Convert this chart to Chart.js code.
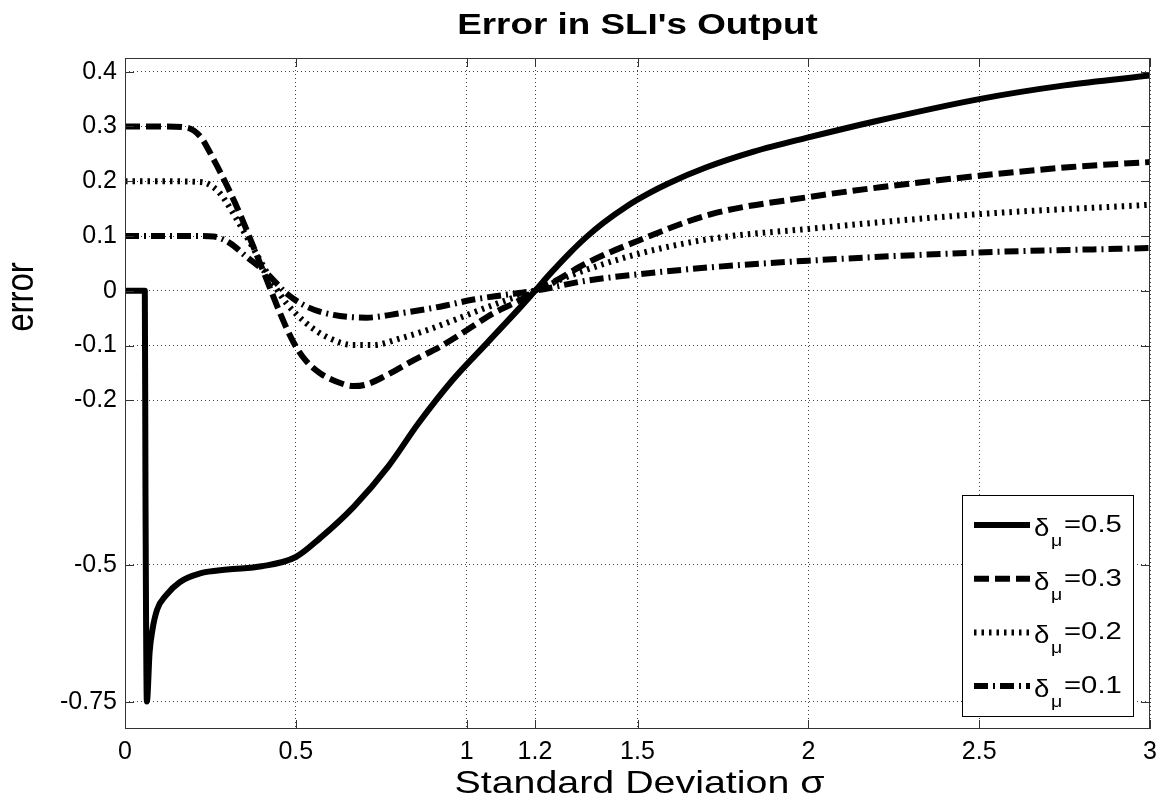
<!DOCTYPE html>
<html>
<head>
<meta charset="utf-8">
<title>Error in SLI's Output</title>
<script src="https://cdn.jsdelivr.net/npm/chart.js@4.4.0/dist/chart.umd.min.js"></script>
<style>
  html, body { margin: 0; padding: 0; background: #fff; }
  #wrap { width: 1161px; height: 802px; }
</style>
</head>
<body>
<div id="wrap"><canvas id="errChart" width="1161" height="802"></canvas></div>
<script>
// texts
var chartTitle = "Error in SLI's Output";
var xTitle = 'Standard Deviation \u03c3';
var yTitle = 'error';
var legendValues = ['0.5', '0.3', '0.2', '0.1'];

// tick positions
var xTicks = [0, 0.5, 1, 1.2, 1.5, 2, 2.5, 3];
var yTicks = [-0.75, -0.5, -0.2, -0.1, 0, 0.1, 0.2, 0.3, 0.4];

// delta_mu = 0.5 (solid)
var sigma05 = [0, 0.058, 0.06, 0.064, 0.072, 0.08, 0.094, 0.12, 0.16, 0.22, 0.3, 0.4, 0.5, 0.57, 0.67, 0.77, 0.86, 0.96, 1.06, 1.16, 1.2, 1.25, 1.3, 1.35, 1.4, 1.47, 1.53, 1.59, 1.7, 1.84, 2.0, 2.2, 2.5, 2.75, 3.0];
var err05   = [0, 0, -0.376, -0.75, -0.66, -0.62, -0.582, -0.556, -0.532, -0.516, -0.509, -0.503, -0.486, -0.452, -0.394, -0.321, -0.241, -0.162, -0.095, -0.028, 0, 0.035, 0.068, 0.098, 0.124, 0.155, 0.177, 0.196, 0.225, 0.254, 0.28, 0.31, 0.35, 0.375, 0.393];

// delta_mu = 0.3 (dashed)
var sigma03 = [0, 0.1, 0.18, 0.22, 0.26, 0.3, 0.34, 0.376, 0.415, 0.454, 0.493, 0.53, 0.57, 0.62, 0.67, 0.707, 0.766, 0.844, 0.922, 1.0, 1.078, 1.156, 1.2, 1.26, 1.346, 1.5, 1.716, 2.0, 2.21, 2.5, 2.77, 3.0];
var err03   = [0.3, 0.3, 0.298, 0.282, 0.239, 0.19, 0.135, 0.08, 0.02, -0.041, -0.094, -0.128, -0.15, -0.166, -0.174, -0.171, -0.154, -0.127, -0.102, -0.072, -0.041, -0.017, 0, 0.018, 0.049, 0.091, 0.14, 0.171, 0.189, 0.21, 0.226, 0.235];

// delta_mu = 0.2 (dotted)
var sigma02 = [0, 0.1, 0.21, 0.24, 0.278, 0.317, 0.356, 0.395, 0.434, 0.473, 0.532, 0.59, 0.668, 0.727, 0.805, 0.883, 0.961, 1.039, 1.117, 1.2, 1.3, 1.5, 1.716, 2.0, 2.5, 3.0];
var err02   = [0.2, 0.2, 0.199, 0.196, 0.178, 0.141, 0.099, 0.056, 0.013, -0.023, -0.06, -0.084, -0.099, -0.099, -0.087, -0.072, -0.054, -0.035, -0.017, 0, 0.027, 0.067, 0.095, 0.113, 0.14, 0.157];

// delta_mu = 0.1 (dash-dot)
var sigma01 = [0, 0.1, 0.21, 0.26, 0.307, 0.356, 0.415, 0.473, 0.532, 0.61, 0.707, 0.805, 0.922, 1.02, 1.107, 1.2, 1.346, 1.5, 1.716, 2.0, 2.5, 3.0];
var err01   = [0.1, 0.1, 0.1, 0.099, 0.087, 0.062, 0.032, -0.005, -0.029, -0.044, -0.049, -0.041, -0.029, -0.016, -0.008, 0, 0.018, 0.03, 0.043, 0.055, 0.07, 0.078];

var FONT = "'Liberation Sans', Arial, Helvetica, sans-serif";

function toPoints(xs, ys) {
    return xs.map(function (x, i) { return { x: x, y: ys[i] }; });
}

var lineStyles = [
    { dash: [] },
    { dash: [15, 6] },
    { dash: [2.5, 5] },
    { dash: [14, 5, 2, 5] }
];

function makeSet(xs, ys, idx) {
    return {
        label: '\u03b4\u03bc=' + legendValues[idx],
        data: toPoints(xs, ys),
        borderColor: '#000',
        borderWidth: 6,
        borderDash: lineStyles[idx].dash,
        borderJoinStyle: 'round',
        pointRadius: 0,
        showLine: true,
        fill: false,
        cubicInterpolationMode: 'monotone'
    };
}

// text with a horizontal stretch, like the original figure
function drawText(ctx, txt, x, y, font, sx, align) {
    ctx.save();
    ctx.translate(x, y);
    ctx.scale(sx, 1);
    ctx.font = font;
    ctx.fillStyle = '#000';
    ctx.textAlign = align || 'left';
    ctx.textBaseline = 'alphabetic';
    ctx.fillText(txt, 0, 0);
    ctx.restore();
}

var matlabLook = {
    id: 'matlabLook',
    afterDatasetsDraw: function (chart) {
        // legend box
        var ctx = chart.ctx;
        var a = chart.chartArea;
        var bw = 171, bh = 221;
        var bx = a.right - 17 - bw, by = a.bottom - 13 - bh;
        ctx.save();
        ctx.fillStyle = '#fff';
        ctx.fillRect(bx, by, bw, bh);
        ctx.strokeStyle = '#000';
        ctx.lineWidth = 1;
        ctx.strokeRect(bx + 0.5, by + 0.5, bw, bh);
        for (var i = 0; i < legendValues.length; i++) {
            var ry = by + 30 + i * 53.7;
            ctx.beginPath();
            ctx.setLineDash(lineStyles[i].dash);
            ctx.lineWidth = 6;
            ctx.lineCap = 'butt';
            ctx.moveTo(bx + 12, ry);
            ctx.lineTo(bx + 68, ry);
            ctx.stroke();
            ctx.setLineDash([]);
            drawText(ctx, '\u03b4', bx + 72, ry + 11, '24px ' + FONT, 1.15);
            drawText(ctx, '\u03bc', bx + 89, ry + 21, '17px ' + FONT, 1.15);
            drawText(ctx, '=' + legendValues[i], bx + 102, ry + 7, '24px ' + FONT, 1.22);
        }
        ctx.restore();
    },
    afterDraw: function (chart) {
        var ctx = chart.ctx;
        var a = chart.chartArea;
        var xs = chart.scales.x, ys = chart.scales.y;
        ctx.save();
        ctx.strokeStyle = '#333';
        ctx.lineWidth = 1;
        ctx.setLineDash([]);
        ctx.strokeRect(a.left + 0.5, a.top + 0.5, a.right - a.left - 1, a.bottom - a.top - 1);
        ctx.beginPath();
        xTicks.forEach(function (v) {
            var px = Math.round(xs.getPixelForValue(v)) + 0.5;
            ctx.moveTo(px, a.bottom); ctx.lineTo(px, a.bottom - 9);
            ctx.moveTo(px, a.top); ctx.lineTo(px, a.top + 9);
        });
        yTicks.forEach(function (v) {
            var py = Math.round(ys.getPixelForValue(v)) + 0.5;
            ctx.moveTo(a.left, py); ctx.lineTo(a.left + 9, py);
            ctx.moveTo(a.right, py); ctx.lineTo(a.right - 9, py);
        });
        ctx.stroke();

        var cx = (a.left + a.right) / 2;
        drawText(ctx, chartTitle, cx, a.top - 24.5, 'bold 29px ' + FONT, 1.27, 'center');
        drawText(ctx, xTitle, cx + 2, a.bottom + 64, '32px ' + FONT, 1.23, 'center');

        // rotated y label
        ctx.save();
        ctx.translate(33, 297);
        ctx.rotate(-Math.PI / 2);
        ctx.scale(1, 1.16);
        ctx.font = '33px ' + FONT;
        ctx.fillStyle = '#000';
        ctx.textAlign = 'center';
        ctx.textBaseline = 'alphabetic';
        ctx.fillText(yTitle, 0, 0);
        ctx.restore();
        ctx.restore();
    }
};

var ctx = document.getElementById('errChart');

new Chart(ctx, {
    type: 'scatter',
    data: {
        datasets: [
            makeSet(sigma05, err05, 0),
            makeSet(sigma03, err03, 1),
            makeSet(sigma02, err02, 2),
            makeSet(sigma01, err01, 3)
        ]
    },
    options: {
        responsive: false,
        animation: false,
        events: [],
        layout: { padding: { top: 58, right: 11, left: 0, bottom: 0 } },
        scales: {
            x: {
                type: 'linear',
                min: 0,
                max: 3,
                afterFit: function (scale) {
                    scale.height = 73;
                    scale.paddingLeft = 0;
                    scale.paddingRight = 0;
                },
                afterBuildTicks: function (scale) {
                    scale.ticks = xTicks.map(function (v) { return { value: v }; });
                },
                ticks: {
                    autoSkip: false,
                    maxRotation: 0,
                    padding: 8,
                    color: '#000',
                    font: { family: FONT, size: 25 },
                    callback: function (v) { return String(v); }
                },
                grid: { color: 'rgba(0,0,0,0.75)', lineWidth: 1, drawTicks: false },
                border: { display: false, dash: [1, 3] }
            },
            y: {
                type: 'linear',
                min: -0.8,
                max: 0.425,
                afterFit: function (scale) {
                    scale.width = 125;
                    scale.paddingTop = 0;
                    scale.paddingBottom = 0;
                },
                afterBuildTicks: function (scale) {
                    scale.ticks = yTicks.map(function (v) { return { value: v }; });
                },
                ticks: {
                    autoSkip: false,
                    padding: 8,
                    color: '#000',
                    font: { family: FONT, size: 25 },
                    callback: function (v) { return String(v); }
                },
                grid: { color: 'rgba(0,0,0,0.75)', lineWidth: 1, drawTicks: false },
                border: { display: false, dash: [1, 3] }
            }
        },
        plugins: {
            legend: { display: false },
            title: { display: false },
            tooltip: { enabled: false }
        }
    },
    plugins: [matlabLook]
});
</script>
</body>
</html>
